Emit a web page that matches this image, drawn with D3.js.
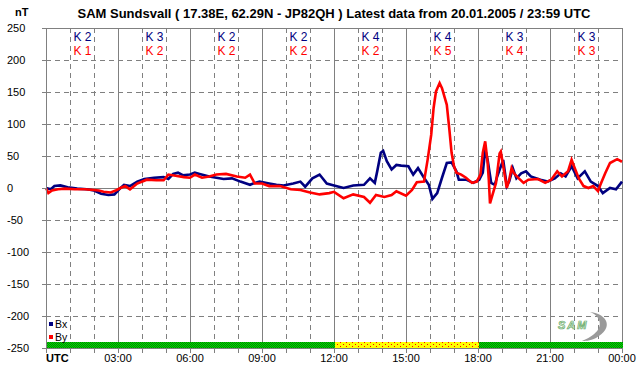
<!DOCTYPE html>
<html>
<head>
<meta charset="utf-8">
<script src="https://cdn.jsdelivr.net/npm/d3@7"></script>
<style>
  html, body { margin: 0; padding: 0; background: #fff; }
  svg { display: block; font-family: "Liberation Sans", Arial, sans-serif; }
</style>
</head>
<body>
<svg id="chart" width="642" height="376"></svg>
<script>
// magnetometer samples, hours UTC / nT
var bxHours = [0, 0.2, 0.35, 0.6, 0.9, 1.3, 1.7, 2.0, 2.3, 2.6, 2.85, 3.05, 3.25, 3.5, 3.8, 4.1, 4.5, 4.9, 5.1, 5.3, 5.5, 5.7, 6.0, 6.2, 6.4, 6.8, 7.1, 7.4, 7.75, 8.1, 8.5, 8.7, 8.9, 9.3, 9.6, 9.9, 10.3, 10.6, 10.8, 11.1, 11.4, 11.7, 12.0, 12.2, 12.4, 12.8, 13.25, 13.5, 13.7, 13.8, 13.95, 14.05, 14.2, 14.4, 14.6, 14.8, 15.1, 15.3, 15.5, 15.75, 15.95, 16.1, 16.3, 16.5, 16.7, 16.9, 17.1, 17.2, 17.5, 17.8, 18.05, 18.2, 18.3, 18.4, 18.55, 18.7, 18.8, 19.05, 19.2, 19.3, 19.45, 19.6, 19.8, 20.0, 20.2, 20.6, 20.9, 21.2, 21.45, 21.65, 21.9, 22.15, 22.45, 22.7, 23.0, 23.2, 23.5, 23.75, 24];
var bxValues = [0, -2, 3, 4, 1, -1, -2, -4, -9, -11, -10, -2, 5, 3, 10, 14, 16, 17, 14, 22, 24, 20, 21, 24, 22, 18, 16, 14, 15, 10, 5, 8, 10, 7, 5, 4, 7, 10, 2, 15, 21, 7, 4, 2, 0, 4, 5, 15, 8, 26, 55, 58, 42, 29, 36, 35, 34, 21, 31, 16, 5, -17, -8, 16, 39, 40, 26, 13, 13, 8, 13, 24, 60, 44, 8, 5, 18, 44, 3, 10, 31, 15, 23, 26, 18, 13, 10, 15, 23, 18, 34, 15, 26, 10, 3, -8, 0, -2, 10];

var byHours = [0, 0.1, 0.25, 0.5, 0.8, 1.2, 1.6, 2.0, 2.2, 2.4, 2.7, 2.9, 3.1, 3.3, 3.5, 3.8, 4.2, 4.6, 4.9, 5.1, 5.4, 5.75, 6.0, 6.2, 6.5, 6.8, 7.1, 7.5, 7.95, 8.3, 8.5, 8.7, 9.0, 9.3, 9.75, 10.2, 10.6, 11.0, 11.4, 11.8, 12.0, 12.4, 12.8, 13.25, 13.5, 13.75, 14.1, 14.4, 14.6, 15.0, 15.25, 15.45, 15.75, 15.9, 16.05, 16.15, 16.25, 16.4, 16.5, 16.7, 16.8, 16.9, 17.0, 17.1, 17.3, 17.5, 17.75, 17.95, 18.1, 18.2, 18.3, 18.4, 18.45, 18.5, 18.6, 18.75, 18.9, 18.95, 19.1, 19.2, 19.3, 19.4, 19.5, 19.7, 19.9, 20.1, 20.5, 20.8, 21.05, 21.3, 21.5, 21.75, 21.9, 22.0, 22.2, 22.4, 22.6, 22.8, 23.0, 23.1, 23.3, 23.5, 23.8, 24];
var byValues = [0, -8, -4, -2, -1, -2, -2, -3, -4, -6, -7, -4, 0, 3, -2, 7, 13, 12, 12, 21, 19, 17, 16, 21, 16, 18, 21, 22, 18, 16, 21, 7, 7, 3, 3, -2, -3, -7, -10, -8, -6, -16, -10, -14, -23, -11, -14, -11, -5, -12, -3, 9, 10, 44, 83, 125, 151, 164, 156, 130, 94, 55, 34, 24, 21, 16, 8, 10, 21, 55, 73, 40, 13, -24, -11, 8, 54, 57, 23, 0, 13, 31, 23, 15, 8, 13, 14, 8, 13, 26, 18, 26, 44, 34, 15, 3, 0, 3, -5, 5, 23, 39, 45, 41];

// K index per 3 hour block
var kBx = [2, 3, 2, 2, 4, 4, 3, 3];
var kBy = [1, 2, 2, 2, 2, 5, 4, 3];

var hourLabels = ['UTC', '03:00', '06:00', '09:00', '12:00', '15:00', '18:00', '21:00', '00:00'];
var yTicks = [250, 200, 150, 100, 50, 0, -50, -100, -150, -200, -250];

var statusFrom = [0, 12, 18];
var statusTo = [12, 18, 24];
var statusKind = ['ok', 'warn', 'ok'];

var seriesNames = ['Bx', 'By'];
var seriesColors = ['#000080', '#ff0000'];

var svg = d3.select('#chart');
var grid_color = '#808080';

var x = d3.scaleLinear().domain([0, 24]).range([46, 622]);
var y = d3.scaleLinear().domain([-250, 250]).range([348, 28]);

var defs = svg.append('defs');

var pat_ok = defs.append('pattern')
    .attr('id', 'pat-ok').attr('patternUnits', 'userSpaceOnUse')
    .attr('width', 2).attr('height', 2);
pat_ok.append('rect').attr('width', 2).attr('height', 2).attr('fill', '#00e000');
pat_ok.append('rect').attr('width', 1).attr('height', 1).attr('fill', '#008000');
pat_ok.append('rect').attr('x', 1).attr('y', 1).attr('width', 1).attr('height', 1).attr('fill', '#008000');

var pat_warn = defs.append('pattern')
    .attr('id', 'pat-warn').attr('patternUnits', 'userSpaceOnUse')
    .attr('width', 6).attr('height', 4);
pat_warn.append('rect').attr('width', 6).attr('height', 4).attr('fill', '#ffff00');
pat_warn.append('rect').attr('x', 1).attr('y', 0).attr('width', 1).attr('height', 1).attr('fill', '#ff0000');
pat_warn.append('rect').attr('x', 4).attr('y', 2).attr('width', 1).attr('height', 1).attr('fill', '#ff0000');

// grid
var hours = d3.range(1, 24);
svg.append('g')
   .selectAll('line')
   .data(hours)
   .enter()
   .append('line')
   .attr('x1', d => x(d) + 0.5).attr('x2', d => x(d) + 0.5)
   .attr('y1', y(250)).attr('y2', y(-250))
   .attr('stroke', grid_color)
   .attr('stroke-width', 1)
   .attr('stroke-dasharray', d => (d % 3 == 0) ? null : '5,4');

svg.append('g')
   .selectAll('line')
   .data(yTicks.filter(v => v != -250))
   .enter()
   .append('line')
   .attr('x1', x(0)).attr('x2', x(24) + 1)
   .attr('y1', d => y(d) + 0.5).attr('y2', d => y(d) + 0.5)
   .attr('stroke', grid_color)
   .attr('stroke-width', 1)
   .attr('stroke-dasharray', d => (d == 0 || d == 250) ? null : '5,4');

// right border
svg.append('line')
   .attr('x1', x(24) + 0.5).attr('x2', x(24) + 0.5)
   .attr('y1', y(250)).attr('y2', y(-250))
   .attr('stroke', grid_color);

// status bar
svg.append('g')
   .selectAll('rect')
   .data(statusFrom)
   .enter()
   .append('rect')
   .attr('x', (d, i) => x(d) + 1)
   .attr('width', (d, i) => x(statusTo[i]) - x(d))
   .attr('y', y(-250) - 6)
   .attr('height', 6)
   .attr('fill', (d, i) => statusKind[i] == 'ok' ? 'url(#pat-ok)' : 'url(#pat-warn)');

// data lines
var line = d3.line().x(d => x(d[0])).y(d => y(d[1]));
var series = [d3.zip(bxHours, bxValues), d3.zip(byHours, byValues)];

svg.append('g')
   .selectAll('path')
   .data(series)
   .enter()
   .append('path')
   .attr('d', line)
   .attr('fill', 'none')
   .attr('stroke', (d, i) => seriesColors[i])
   .attr('stroke-width', 2.6)
   .attr('stroke-linejoin', 'miter');

// axes
svg.append('line')
   .attr('x1', x(0) + 0.5).attr('x2', x(0) + 0.5)
   .attr('y1', y(250)).attr('y2', y(-250) + 5)
   .attr('stroke', grid_color);
svg.append('line')
   .attr('x1', x(0) - 4).attr('x2', x(24) + 1)
   .attr('y1', y(-250) + 0.5).attr('y2', y(-250) + 0.5)
   .attr('stroke', grid_color);

svg.append('g')
   .selectAll('line')
   .data(yTicks)
   .enter()
   .append('line')
   .attr('x1', x(0) - 4).attr('x2', x(0))
   .attr('y1', d => y(d) + 0.5).attr('y2', d => y(d) + 0.5)
   .attr('stroke', grid_color);

svg.append('g')
   .selectAll('line')
   .data(d3.range(0, 25))
   .enter()
   .append('line')
   .attr('x1', d => x(d) + 0.5).attr('x2', d => x(d) + 0.5)
   .attr('y1', y(-250)).attr('y2', y(-250) + 5)
   .attr('stroke', grid_color);

svg.append('g')
   .selectAll('text')
   .data(yTicks)
   .enter()
   .append('text')
   .text(d => d)
   .attr('x', 7)
   .attr('y', d => y(d) + 4)
   .attr('font-size', 11)
   .attr('fill', '#000');

svg.append('g')
   .selectAll('text')
   .data(hourLabels)
   .enter()
   .append('text')
   .text(d => d)
   .attr('x', (d, i) => i == 0 ? x(0) : x(i * 3))
   .attr('y', 362)
   .attr('text-anchor', (d, i) => i == 0 ? 'start' : 'middle')
   .attr('font-size', 11)
   .attr('font-weight', (d, i) => i == 0 ? 'bold' : 'normal')
   .attr('fill', '#000');

// K indices
var kg = svg.append('g').attr('text-anchor', 'middle').attr('font-size', 12);
kg.selectAll('.kbx')
  .data(kBx)
  .enter()
  .append('text')
  .attr('class', 'kbx')
  .text(d => 'K ' + d)
  .attr('x', (d, i) => x(i * 3 + 1.5) + 0.5)
  .attr('y', 41)
  .attr('fill', seriesColors[0]);
kg.selectAll('.kby')
  .data(kBy)
  .enter()
  .append('text')
  .attr('class', 'kby')
  .text(d => 'K ' + d)
  .attr('x', (d, i) => x(i * 3 + 1.5) + 0.5)
  .attr('y', 55)
  .attr('fill', seriesColors[1]);

// title
svg.append('text')
   .text('nT')
   .attr('x', 15).attr('y', 16)
   .attr('font-size', 11).attr('font-weight', 'bold');
svg.append('text')
   .text('SAM Sundsvall ( 17.38E, 62.29N - JP82QH ) Latest data from 20.01.2005 / 23:59 UTC')
   .attr('x', 334).attr('y', 18)
   .attr('text-anchor', 'middle')
   .attr('font-size', 13).attr('font-weight', 'bold');

// legend
var lg = svg.append('g');
seriesNames.forEach((n, i) => {
  lg.append('rect')
    .attr('x', 49).attr('y', 322 + i * 13)
    .attr('width', 4).attr('height', 4)
    .attr('fill', seriesColors[i]);
  lg.append('text')
    .text(n)
    .attr('x', 55).attr('y', 328 + i * 13)
    .attr('font-size', 10.5)
    .attr('fill', '#000');
});

// SAM logo (rough)
var logo = svg.append('g').attr('transform', 'translate(556,308)');
logo.append('path')
    .attr('d', 'M34,4 C52,6 58,20 40,30 C34,33 28,33 26,33 C38,28 48,20 42,10 C40,7 37,5 34,4 Z')
    .attr('fill', '#9a9a9a');
logo.append('text')
    .text('SAM')
    .attr('x', 2).attr('y', 21)
    .attr('font-size', 11)
    .attr('font-style', 'italic')
    .attr('font-weight', 'bold')
    .attr('letter-spacing', 2)
    .attr('fill', '#e8f4e8')
    .attr('stroke', '#66aa66')
    .attr('stroke-width', 0.7);
</script>
</body>
</html>
